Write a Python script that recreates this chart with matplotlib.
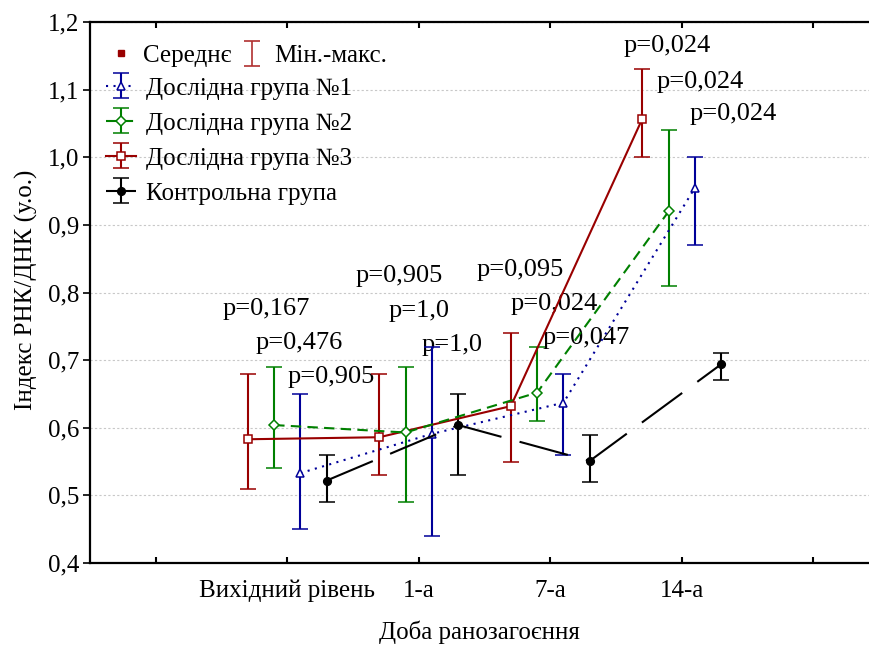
#Import Python Packages
import numpy as np
import matplotlib
matplotlib.use('Agg')
import matplotlib.pyplot as plt
from matplotlib.lines import Line2D

plt.rcParams['font.family'] = ['Liberation Serif', 'DejaVu Serif']

#-----DATA-----

days = ['Вихідний рівень', '1-а', '7-а', '14-а']
day_pos = np.arange(1, 5)

#Дослідна група №1 (mean, min, max)
g1_mean = [0.533, 0.591, 0.637, 0.955]
g1_min = [0.45, 0.44, 0.56, 0.87]
g1_max = [0.65, 0.72, 0.68, 1.00]

#Дослідна група №2
g2_mean = [0.604, 0.593, 0.652, 0.920]
g2_min = [0.54, 0.49, 0.61, 0.81]
g2_max = [0.69, 0.69, 0.72, 1.04]

#Дослідна група №3
g3_mean = [0.583, 0.586, 0.632, 1.057]
g3_min = [0.51, 0.53, 0.55, 1.00]
g3_max = [0.68, 0.68, 0.74, 1.13]

#Контрольна група
c_mean = [0.522, 0.604, 0.551, 0.694]
c_min = [0.49, 0.53, 0.52, 0.67]
c_max = [0.56, 0.65, 0.59, 0.71]

yticks = [0.4, 0.5, 0.6, 0.7, 0.8, 0.9, 1.0, 1.1, 1.2]

#p-values and where they are written
p_text = ['p=0,167', 'p=0,476', 'p=0,905',
          'p=0,905', 'p=1,0', 'p=1,0',
          'p=0,095', 'p=0,024', 'p=0,047',
          'p=0,024', 'p=0,024', 'p=0,024']
p_x = [0.51, 0.76, 1.00, 1.52, 1.77, 2.02, 2.44, 2.70, 2.94, 3.56, 3.81, 4.06]
p_y = [0.775, 0.726, 0.675, 0.824, 0.772, 0.723, 0.834, 0.783, 0.732, 1.164, 1.112, 1.064]

#-----PLOT-----

red = '#990000'
green = '#008000'
blue = '#000099'
black = '#000000'

fig = plt.figure(figsize=(8.69, 6.47), dpi=100)
ax = fig.add_axes([0.1036, 0.1298, 0.908, 0.8362])

def draw_group(mean, lo, hi, offset, color, marker, ls, filled, label):
    mean = np.array(mean)
    err = [mean - np.array(lo), np.array(hi) - mean]
    return ax.errorbar(day_pos + offset, mean, yerr=err, color=color, ecolor=color,
                       linestyle=ls, linewidth=1.5, elinewidth=1.5, capsize=6, capthick=1.5,
                       marker=marker, markersize=5.5, markeredgewidth=1.1,
                       markerfacecolor=color if filled else 'white', markeredgecolor=color,
                       label=label, zorder=3)

h3 = draw_group(g3_mean, g3_min, g3_max, -0.3, red, 's', '-', False, 'Дослідна група №3')
h2 = draw_group(g2_mean, g2_min, g2_max, -0.1, green, 'D', (0, (5, 3)), False, 'Дослідна група №2')
h1 = draw_group(g1_mean, g1_min, g1_max, 0.1, blue, '^', (0, (1, 2.6)), False, 'Дослідна група №1')
hc = draw_group(c_mean, c_min, c_max, 0.3, black, 'o', (0, (24, 9)), True, 'Контрольна група')

for t, x, y in zip(p_text, p_x, p_y):
    ax.text(x, y, t, fontsize=19, ha='left', va='center', zorder=2)

#Axes
ax.set_xlim(-0.5, 5.5)
ax.set_ylim(0.4, 1.2)
ax.set_xticks(range(6))
ax.set_xticklabels([''] + days + [''])
ax.set_yticks(yticks)
ax.set_yticklabels([('%.1f' % v).replace('.', ',') for v in yticks])
ax.tick_params(axis='x', direction='in', top=True, length=4, width=1.5, pad=12, labelsize=18)
ax.tick_params(axis='y', direction='out', length=5, width=1.2, pad=3, labelsize=18)
ax.spines['right'].set_visible(False)
for s in ['left', 'bottom', 'top']:
    ax.spines[s].set_linewidth(1.6)
ax.yaxis.grid(True, color='#c8c8c8', linestyle=(0, (2, 2)), linewidth=0.8)
ax.set_axisbelow(True)

ax.set_xlabel('Доба ранозагоєння', fontsize=18)
ax.xaxis.set_label_coords(0.494, -0.107)
ax.set_ylabel('Індекс РНК/ДНК (у.о.)', fontsize=18)
ax.yaxis.set_label_coords(-0.066, 0.505)

#Legend
mean_h = Line2D([], [], marker='s', color=red, linestyle='none', markersize=5)
minmax_h = ax.errorbar([np.nan], [np.nan], yerr=[[0], [0]], fmt='none', ecolor='#b03030',
                       elinewidth=1.2, capsize=6, capthick=1.2)
leg1 = ax.legend([mean_h, minmax_h], ['Середнє', 'Мін.-макс.'], ncol=2, loc='upper left',
                 bbox_to_anchor=(0.02, 0.958), frameon=False, fontsize=18, borderpad=0,
                 borderaxespad=0, handlelength=1.2, handletextpad=0.3, columnspacing=0.2)
ax.add_artist(leg1)
ax.legend([h1, h2, h3, hc], ['Дослідна група №1', 'Дослідна група №2', 'Дослідна група №3', 'Контрольна група'],
          loc='upper left', bbox_to_anchor=(0.02, 0.898), frameon=False, fontsize=18, borderpad=0,
          borderaxespad=0, handlelength=1.2, handletextpad=0.4, labelspacing=0.5)

plt.savefig('out.png', dpi=100)
